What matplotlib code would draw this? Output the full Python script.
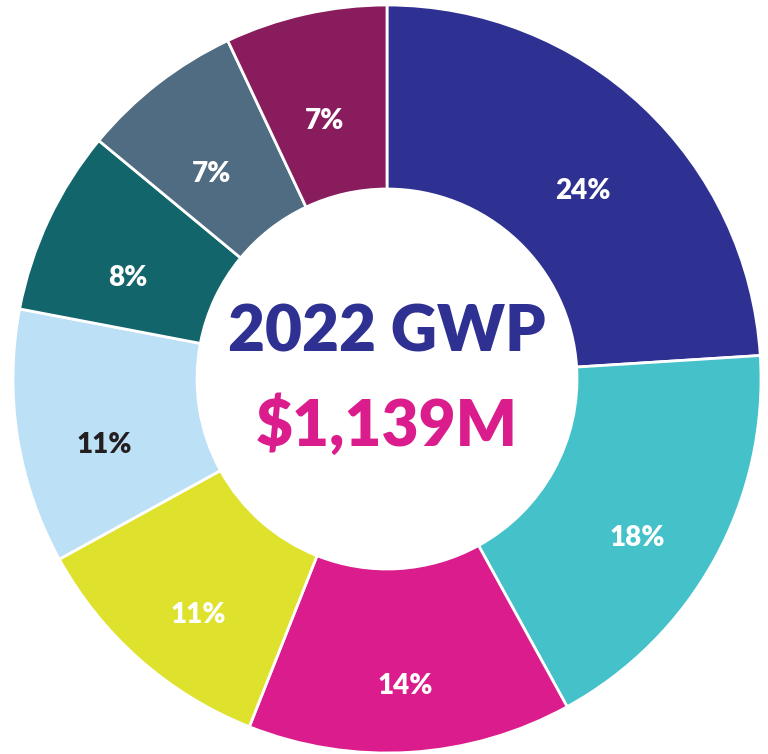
import matplotlib
matplotlib.use("Agg")
import matplotlib.pyplot as plt
import numpy as np

# Data
categories = ["Seg A", "Seg B", "Seg C", "Seg D", "Seg E", "Seg F", "Seg G", "Seg H"]
shares = [24, 18, 14, 11, 11, 8, 7, 7]
labels = ["24%", "18%", "14%", "11%", "11%", "8%", "7%", "7%"]
colors = ["#2E3192", "#45C1CA", "#DA1C8C", "#DFE22C", "#BCE0F5", "#12656A", "#4F6C82", "#891C5C"]
label_colors = ["white", "white", "white", "white", "#231F20", "white", "white", "white"]
center_title = "2022 GWP"
center_value = "$1,139M"

W, H = 768, 754
fig = plt.figure(figsize=(W / 100, H / 100), dpi=100)
ax = fig.add_axes([0, 0, 1, 1])

cx, cy, R = 387, 375, 374
ax.pie(
    shares,
    colors=colors,
    startangle=90,
    counterclock=False,
    radius=R,
    center=(cx, cy),
    frame=True,
    wedgeprops=dict(width=R - 190, edgecolor="white", linewidth=2),
)
ax.set_xlim(0, W)
ax.set_ylim(0, H)
ax.set_aspect("equal")
ax.axis("off")

ang = 90.0
lr = 0.765 * R
dy = -21
for s, lab, lc in zip(shares, labels, label_colors):
    mid = ang - s * 360 / 100 / 2
    ang -= s * 360 / 100
    x = cx + lr * np.cos(np.radians(mid))
    y = cy + lr * np.sin(np.radians(mid)) + dy
    ax.text(x, y, lab, ha="center", va="center", color=lc,
            fontsize=20, fontweight="heavy", family=["Lato", "DejaVu Sans"])

ax.text(cx, H - 333, center_title, ha="center", va="center", color="#2E3192",
        fontsize=46, fontweight="heavy", family=["Lato", "DejaVu Sans"])
ax.text(cx, H - 426, center_value, ha="center", va="center", color="#DA1C8C",
        fontsize=46, fontweight="heavy", family=["Lato", "DejaVu Sans"])

fig.savefig("out.png", dpi=100, facecolor="white")
